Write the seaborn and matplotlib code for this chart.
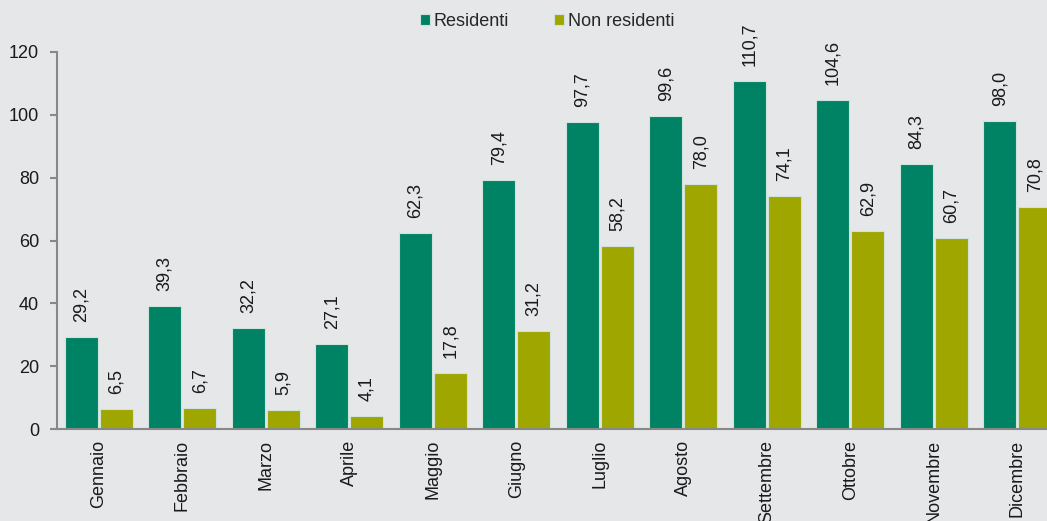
import pandas as pd
import seaborn as sns
import matplotlib.pyplot as plt
from matplotlib.ticker import FixedLocator

mesi = ['Gennaio', 'Febbraio', 'Marzo', 'Aprile', 'Maggio', 'Giugno',
        'Luglio', 'Agosto', 'Settembre', 'Ottobre', 'Novembre', 'Dicembre']
residenti = [29.2, 39.3, 32.2, 27.1, 62.3, 79.4, 97.7, 99.6, 110.7, 104.6, 84.3, 98.0]
non_residenti = [6.5, 6.7, 5.9, 4.1, 17.8, 31.2, 58.2, 78.0, 74.1, 62.9, 60.7, 70.8]
serie = ['Residenti', 'Non residenti']
colori = ['#008264', '#a0a600']

df = pd.DataFrame({
    'mese': mesi * 2,
    'valore': residenti + non_residenti,
    'serie': [serie[0]] * 12 + [serie[1]] * 12,
})

sns.set_style('white')
plt.rcParams['font.family'] = ['Liberation Sans', 'DejaVu Sans']
bg = '#e6e7e9'

fig = plt.figure(figsize=(10.47, 5.21), dpi=100, facecolor=bg)
ax = fig.add_axes([57 / 1047, 92 / 521, 1002 / 1047, 377 / 521])
ax.set_facecolor(bg)

sns.barplot(data=df, x='mese', y='valore', hue='serie', order=mesi,
            hue_order=serie, palette=colori, saturation=1, width=0.84, gap=0.06,
            edgecolor='#cfe3da', linewidth=0.8, ax=ax)

# etichette valori
for cont in ax.containers:
    for b in cont:
        lab = f'{b.get_height():.1f}'.replace('.', ',')
        ax.annotate(lab, (b.get_x() + b.get_width() / 2, b.get_height()),
                    xytext=(0, 15), textcoords='offset pixels',
                    ha='center', va='bottom', rotation=90,
                    fontsize=13, color='#1a1a1a')

ax.set_xlim(-0.5, 11.5)
ax.set_ylim(0, 120)
ax.set_yticks(range(0, 121, 20))
ax.set_xlabel('')
ax.set_ylabel('')

ax.xaxis.set_minor_locator(FixedLocator([i - 0.5 for i in range(13)]))
ax.tick_params(axis='x', which='major', length=0, pad=8, labelsize=13,
               labelrotation=90, colors='#1a1a1a')
ax.tick_params(axis='x', which='minor', length=5, width=1.5, color='#888888')
ax.tick_params(axis='y', length=5, width=1.5, color='#888888', pad=8,
               labelsize=13, labelcolor='#1a1a1a', left=True)

for s in ['top', 'right']:
    ax.spines[s].set_visible(False)
for s in ['left', 'bottom']:
    ax.spines[s].set_color('#888888')
    ax.spines[s].set_linewidth(1.5)

handles, labels = ax.get_legend_handles_labels()
ax.legend(handles, labels, ncol=2, frameon=False, loc='center',
          bbox_to_anchor=(547 / 1047, 1 - 21 / 521),
          bbox_transform=fig.transFigure, fontsize=13,
          handlelength=0.55, handleheight=0.55, handletextpad=0.2,
          columnspacing=2.5)

fig.savefig('out.png', dpi=100, facecolor=bg)
